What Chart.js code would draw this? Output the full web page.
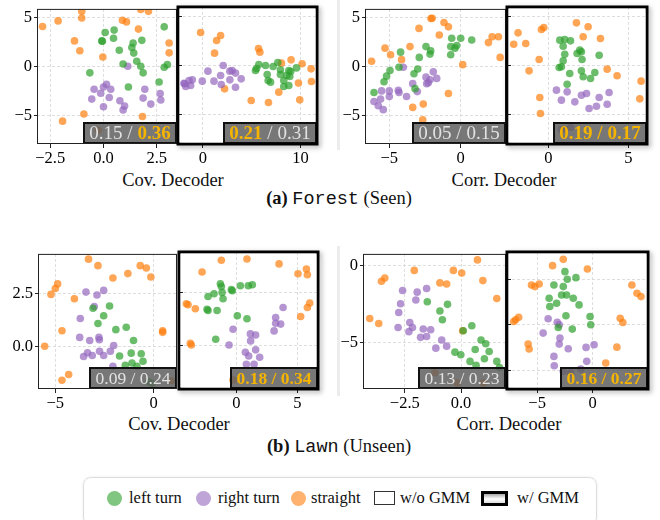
<!DOCTYPE html>
<html>
<head>
<meta charset="utf-8">
<script src="https://cdn.jsdelivr.net/npm/chart.js@4.4.1/dist/chart.umd.min.js"></script>
<style>
  body { margin:0; width:660px; height:520px; position:relative; overflow:hidden; background:#fff;
         font-family:'Liberation Serif','Times New Roman',serif; color:#111; }
  canvas { position:absolute; }
  .t { position:absolute; transform:translate(-50%,-50%); white-space:nowrap; font-size:18.5px; }
  .mono { font-family:'Liberation Mono','Courier New',monospace; }
  .sep { position:absolute; width:3px; background:#ececec; }
  #legend { position:absolute; left:83px; top:477px; width:512px; height:46px; border:1.5px solid #ddd;
            border-radius:8px; box-shadow:0 0 3px rgba(0,0,0,0.08); }
  .dot { position:absolute; width:15px; height:15px; border-radius:50%; }
  .lt { position:absolute; top:498px; transform:translateY(-50%); font-size:16.5px; white-space:nowrap; }
</style>
</head>
<body>
<div class="sep" style="left:337px;top:0;height:150px"></div>
<div class="sep" style="left:337px;top:246px;height:150px"></div>

<div class="t" style="left:173px;top:180px">Cov. Decoder</div>
<div class="t" style="left:504px;top:180px">Corr. Decoder</div>
<div class="t" style="left:339px;top:199px"><b>(a)</b> <span class="mono">Forest</span> (Seen)</div>
<div class="t" style="left:179px;top:424px">Cov. Decoder</div>
<div class="t" style="left:509px;top:424px">Corr. Decoder</div>
<div class="t" style="left:339px;top:447px"><b>(b)</b> <span class="mono">Lawn</span> (Unseen)</div>

<div id="legend"></div>
<div class="dot" style="left:107px;top:491px;background:rgba(44,160,44,0.6)"></div>
<div class="lt" style="left:129px">left turn</div>
<div class="dot" style="left:196px;top:491px;background:rgba(148,103,189,0.6)"></div>
<div class="lt" style="left:218px">right turn</div>
<div class="dot" style="left:291px;top:491px;background:rgba(255,127,14,0.6)"></div>
<div class="lt" style="left:311px">straight</div>
<div style="position:absolute;left:374px;top:491px;width:19px;height:12px;border:1.3px solid #333;background:#fff"></div>
<div class="lt" style="left:400px">w/o GMM</div>
<div style="position:absolute;left:481px;top:491px;width:21px;height:9px;border:3px solid #000;background:linear-gradient(#aaa,#fff 55%,#ddd)"></div>
<div class="lt" style="left:517px">w/ GMM</div>

<script>
// ---- data ----
// Forest, Cov. Decoder, w/o GMM
const p1Left = [[0.08,3.50],[0.50,3.74],[-0.08,2.63],[-0.05,2.60],[0.47,2.90],[2.85,4.07],[1.39,2.42],[1.80,2.69],[1.33,1.95],[1.42,1.38],[0.74,1.68],[1.56,0.54],[1.75,0.03],[1.86,-0.64],[0.92,0.27],[-0.64,-0.64],[1.17,-2.09],[2.61,-1.58],[2.85,-0.07],[3.00,0.20]];
const p1Right = [[-0.44,-2.32],[-0.55,-3.33],[-0.13,-2.73],[0.14,-1.82],[0.34,-2.32],[0.27,-3.16],[0.00,-4.11],[0.77,-3.50],[0.92,-4.44],[0.99,-4.04],[1.14,0.03],[1.94,-2.32],[1.86,-3.23],[2.22,-3.84],[2.66,-2.76],[2.69,-3.43],[0.00,-2.09]];
const p1Straight = [[-2.86,4.11],[-2.13,4.68],[-1.02,5.66],[-1.02,4.98],[1.75,5.86],[2.11,5.66],[0.89,4.75],[1.08,4.58],[1.64,3.84],[-1.36,2.63],[-1.11,1.62],[-0.03,0.98],[3.08,2.42],[3.08,1.41],[1.83,-5.12],[-0.92,-4.85],[-1.92,-5.59],[-0.25,-6.53]];
// Forest, Cov. Decoder, w/ GMM
const p2Left = [[5.39,-0.51],[5.73,0.10],[6.42,0.00],[6.59,-0.91],[6.93,-1.68],[7.68,0.30],[7.95,-0.44],[8.81,-0.51],[9.59,-0.24],[8.91,-1.11],[8.29,-1.52],[8.81,-2.02],[8.29,-2.12],[7.95,-0.91],[6.69,-1.52],[5.50,-0.30],[8.60,-1.00],[7.20,-0.10],[9.00,-0.60]];
const p2Right = [[-1.88,-1.85],[-1.43,-1.52],[-1.09,-1.45],[-1.26,-2.02],[-1.77,-2.12],[-0.07,-1.58],[0.51,-0.57],[1.13,-1.58],[1.81,-1.01],[1.88,-1.92],[2.08,0.00],[2.76,-0.57],[3.00,-0.51],[2.76,-1.45],[3.34,-0.77],[3.92,-1.35],[3.34,-2.19],[-1.95,-1.80]];
const p2Straight = [[-0.24,3.33],[1.40,2.53],[1.81,3.03],[1.19,1.25],[5.70,1.72],[5.84,1.35],[2.22,-2.36],[4.95,-3.54],[6.72,-3.74],[9.93,-3.47],[8.05,0.24],[9.04,0.57],[10.17,0.17],[11.09,-0.34],[11.13,-1.62],[9.80,-1.78],[7.78,-2.69]];
// Forest, Corr. Decoder, w/o GMM
const p3Left = [[-6.07,-2.66],[-5.37,-1.55],[-5.19,-0.98],[-4.95,-0.40],[-4.21,1.48],[-4.32,-0.07],[-3.27,-0.74],[-3.01,-0.24],[-2.90,0.94],[-2.43,2.05],[-2.15,1.28],[-2.10,1.62],[-0.63,2.90],[-0.70,2.05],[-0.40,1.89],[-0.28,2.15],[0.00,2.90],[0.77,2.73],[-0.70,1.21],[-3.20,-2.26]];
const p3Right = [[-6.07,-3.57],[-5.77,-4.01],[-5.42,-4.41],[-5.61,-3.33],[-5.54,-2.49],[-5.00,-2.49],[-5.00,-3.06],[-4.37,-2.42],[-4.32,-2.66],[-3.79,-3.06],[-3.36,-1.75],[-3.04,-2.56],[-2.43,-1.08],[-2.27,-1.65],[-2.38,-1.75],[-2.15,-1.35],[-1.92,-0.54],[-1.68,-1.21],[-4.02,-0.07]];
const p3Straight = [[-6.24,0.54],[-5.30,1.89],[-4.91,1.21],[-4.14,0.71],[-3.55,2.05],[-2.92,3.91],[-2.08,4.92],[-2.00,4.95],[-1.17,4.51],[-0.86,4.07],[-1.50,3.23],[0.14,0.20],[1.94,2.46],[2.20,3.06],[2.64,3.06],[2.76,0.94],[-0.86,-2.76],[-2.62,-3.84],[-3.36,-4.18],[-2.66,-5.45]];
// Forest, Corr. Decoder, w/ GMM
const p4Left = [[0.71,2.56],[1.02,2.63],[1.38,2.49],[0.92,1.95],[1.02,1.14],[0.92,0.47],[0.81,-0.13],[0.67,-0.20],[1.33,-0.81],[1.17,-1.89],[1.96,1.55],[2.06,1.38],[1.79,1.21],[2.10,0.61],[2.06,-0.54],[2.17,-1.14],[2.63,-1.31],[2.90,-0.71],[3.17,1.04]];
const p4Right = [[0.50,-2.49],[1.17,-2.66],[0.81,-3.50],[1.65,-3.67],[2.06,-3.00],[2.38,-2.83],[2.54,-4.34],[3.00,-4.11],[3.17,-3.23],[3.67,-3.91],[3.79,-2.73],[0.81,-6.46],[1.38,-6.26]];
const p4Straight = [[-2.17,2.15],[-1.90,3.30],[-1.42,2.22],[-0.44,3.64],[-0.29,3.84],[-0.58,0.61],[-1.21,-0.54],[1.75,4.31],[2.48,3.91],[2.17,2.90],[3.25,2.73],[3.67,-0.37],[4.29,-1.04],[5.79,-1.58],[5.71,-3.37],[-0.54,-3.23],[-0.50,-4.85]];
// Lawn, Cov. Decoder, w/o GMM
const p5Left = [[-3.08,1.81],[-2.24,1.92],[-2.54,1.45],[-2.83,1.08],[-1.92,0.79],[-1.39,0.90],[-1.02,0.27],[-1.73,-0.47],[-1.14,-0.33],[-0.63,-0.36],[-0.54,-0.72],[-1.10,-0.80],[-1.44,-0.91],[-0.85,-0.96],[-0.25,-1.70],[-0.08,-1.78]];
const p5Right = [[-3.44,2.58],[-2.88,2.44],[-2.54,2.66],[-3.02,1.89],[-3.73,1.32],[-3.76,0.42],[-3.25,0.27],[-2.78,0.42],[-2.76,0.31],[-2.03,0.03],[-2.20,-0.24],[-2.75,-0.24],[-2.54,-0.44],[-3.36,-0.31],[-3.56,-0.49],[-3.12,-0.44],[-2.07,-0.96]];
const p5Straight = [[-3.31,4.15],[-2.83,3.84],[-2.07,3.25],[-1.31,3.46],[-0.68,3.84],[-0.37,3.73],[-0.14,3.30],[-4.88,2.97],[-5.00,2.75],[-5.22,2.47],[-4.03,2.26],[-4.66,0.74],[-5.54,0.00],[0.46,0.74],[0.46,0.66],[-4.66,-1.62],[-4.32,-1.35],[0.90,-1.65]];
// Lawn, Cov. Decoder, w/ GMM
const p6Left = [[-1.31,2.91],[-1.23,2.78],[-1.83,2.44],[-2.32,2.31],[-1.17,2.50],[-1.09,2.20],[-0.41,2.63],[-0.33,2.58],[0.33,2.81],[0.98,2.81],[1.31,2.86],[-2.40,1.71],[-2.32,1.65],[-1.58,1.65],[0.08,1.40],[0.87,1.26],[-1.69,0.30]];
const p6Right = [[3.83,1.79],[3.22,1.32],[3.22,1.05],[3.63,1.01],[3.09,0.69],[-0.27,0.77],[1.15,0.55],[1.58,0.50],[1.17,0.22],[-0.60,0.03],[0.74,-0.31],[1.01,-0.49],[1.58,-0.20],[1.91,-0.55],[0.82,-0.88],[1.45,-0.88]];
const p6Straight = [[-1.23,4.01],[0.87,4.07],[3.50,3.84],[-2.81,3.46],[5.05,3.38],[5.74,3.60],[5.82,3.33],[-4.10,1.97],[-3.96,1.92],[-3.36,1.73],[6.01,2.00],[5.82,1.79],[5.27,1.37],[-3.77,0.11],[-3.69,0.03],[-0.27,-1.62]];
// Lawn, Corr. Decoder, w/o GMM
const p7Left = [[-1.50,-2.33],[-0.60,-2.50],[-0.94,-2.93],[-0.83,-3.50],[0.10,-4.21],[0.48,-3.89],[0.89,-4.81],[1.10,-5.06],[1.25,-5.56],[0.63,-5.43],[1.04,-6.03],[-0.27,-5.60],[-0.01,-5.77],[0.40,-6.20],[0.67,-6.45],[1.59,-6.20],[1.71,-6.60]];
const p7Right = [[-2.60,-1.60],[-1.95,-1.71],[-1.53,-1.47],[-2.01,-2.22],[-2.69,-2.46],[-2.77,-3.03],[-2.80,-4.00],[-2.28,-3.68],[-2.32,-4.27],[-2.16,-4.00],[-1.68,-4.10],[-1.35,-4.15],[-1.80,-4.64],[-1.53,-4.59],[-0.86,-4.81],[-0.64,-5.21],[-1.12,-5.34]];
const p7Straight = [[0.73,0.38],[-0.34,-0.30],[0.03,-0.47],[0.97,-0.96],[1.59,-2.12],[-2.08,-0.30],[-3.54,-1.00],[-3.39,-0.79],[-0.94,-1.11],[-0.64,-1.18],[-4.06,-3.42],[-3.66,-3.74],[0.07,-4.21],[-1.16,-6.94],[-0.16,-7.59],[1.00,-7.59]];
// Lawn, Corr. Decoder, w/ GMM
const p8Left = [[-2.50,5.84],[-2.29,5.00],[-1.51,5.18],[-3.49,4.38],[-2.65,4.20],[-2.80,3.28],[-2.35,3.28],[-1.75,2.92],[-3.92,2.92],[-3.25,2.37],[-3.86,2.01],[-1.23,2.19],[-2.41,0.99],[-0.24,0.91],[-0.18,0.00],[-3.10,-0.29],[-1.84,-0.47]];
const p8Right = [[-4.01,0.66],[-3.19,0.29],[-3.01,0.00],[-4.46,-0.91],[-2.95,-1.46],[-3.01,-2.12],[-2.20,-2.63],[-3.49,-3.47],[-3.46,-4.49],[-0.60,-2.48],[0.12,-2.19],[-0.54,-4.01],[-1.08,-4.85],[-2.65,-5.11],[-1.99,-5.29]];
const p8Straight = [[-3.61,6.50],[-2.65,7.19],[-0.48,6.13],[-5.51,4.38],[-5.21,4.20],[-4.82,4.49],[-6.93,0.55],[-6.66,0.84],[-7.11,0.36],[-5.81,-2.12],[-5.72,-2.66],[3.52,4.38],[3.98,3.47],[4.34,3.10],[2.47,0.73],[2.71,0.26],[2.17,-2.45],[1.17,-4.20]];

// tick values
const p1XTicks = [-2.5, 0, 2.5];
const p2XTicks = [0, 10];
const p3XTicks = [-5, 0];
const p4XTicks = [0, 5];
const p5XTicks = [-5, 0];
const p6XTicks = [0, 5];
const p7XTicks = [-2.5, 0];
const p8XTicks = [-5, 0];
const forestYTicks = [-5, 0, 5];
const lawnCovYTicks = [0, 2.5];
const lawnCorrYTicks = [-5, 0];
const lawnCorrGmmYTicks = [-5, 0, 5];

// score boxes: [w/o value, w/ value] and which part is highlighted
const panelScores = [[0.15,0.36],[0.21,0.31],[0.05,0.15],[0.19,0.17],[0.09,0.24],[0.18,0.34],[0.13,0.23],[0.16,0.27]];
const scoreBest = [[0,1],[1,0],[0,0],[1,1],[0,0],[1,1],[0,0],[1,1]];

const classColors = ['rgba(44,160,44,0.7)', 'rgba(148,103,189,0.7)', 'rgba(255,127,14,0.7)'];
const SERIF = "'Liberation Serif','Times New Roman',serif";
const GOLD = '#f5b400';

const panels = [
  {rect:[37,7,140,137],  x:[-3.12,3.45],  y:[-7.93,5.91], xt:p1XTicks, yt:forestYTicks, showY:true,  thick:false, sets:[p1Left,p1Right,p1Straight], boxW:94, fs:19},
  {rect:[178,7,139,137], x:[-2.56,11.7],  y:[-7.93,5.91], xt:p2XTicks, yt:forestYTicks, showY:false, thick:true,  sets:[p2Left,p2Right,p2Straight], boxW:94, fs:19},
  {rect:[365,7,141,137], x:[-6.7,3.17],   y:[-7.93,5.91], xt:p3XTicks, yt:forestYTicks, showY:true,  thick:false, sets:[p3Left,p3Right,p3Straight], boxW:94, fs:19},
  {rect:[507,7,140,137], x:[-2.59,6.16],  y:[-7.93,5.91], xt:p4XTicks, yt:forestYTicks, showY:false, thick:true,  sets:[p4Left,p4Right,p4Straight], boxW:94, fs:19},
  {rect:[38,252,139,137], x:[-5.88,1.19], y:[-2.04,4.4],  xt:p5XTicks, yt:lawnCovYTicks, showY:true,  thick:false, sets:[p5Left,p5Right,p5Straight], boxW:88, fs:17.5},
  {rect:[179,252,139,137],x:[-4.7,6.69],  y:[-2.04,4.4],  xt:p6XTicks, yt:lawnCovYTicks, showY:false, thick:true,  sets:[p6Left,p6Right,p6Straight], boxW:88, fs:17.5},
  {rect:[363,252,143,137],x:[-4.36,2.0],  y:[-7.99,0.77], xt:p7XTicks, yt:lawnCorrYTicks, showY:true, thick:false, sets:[p7Left,p7Right,p7Straight], boxW:88, fs:17.5},
  {rect:[507,252,141,137],x:[-7.71,4.97], y:[-7.05,8.0],  xt:p8XTicks, yt:lawnCorrGmmYTicks, showY:false, thick:true, sets:[p8Left,p8Right,p8Straight], boxW:88, fs:17.5}
];

function fmtTick(v, ticks) {
  var dec = ticks.some(function (t) { return t % 1 !== 0; }) ? 1 : 0;
  return (v < 0 ? '\u2212' : '') + Math.abs(v).toFixed(dec);
}

const decorPlugin = {
  id: 'decor',
  afterDatasetsDraw: function (chart) {
    var p = chart.options.plugins.decor;
    var a = chart.chartArea, ctx = chart.ctx;
    var bw = p.boxW, bh = 22;
    var bx = a.right - bw, by = a.bottom - bh;
    ctx.save();
    ctx.fillStyle = 'rgba(95,95,95,0.85)';
    ctx.fillRect(bx, by, bw, bh);
    ctx.strokeStyle = '#111';
    ctx.lineWidth = 2;
    ctx.strokeRect(bx + 1, by + 1, bw - 2, bh - 2);
    // score text
    var sc = panelScores[p.idx], best = scoreBest[p.idx];
    var parts = [
      {s: sc[0].toFixed(2), g: best[0]},
      {s: ' / ', g: best[0] && best[1]},
      {s: sc[1].toFixed(2), g: best[1]}
    ];
    var total = 0;
    parts.forEach(function (q) {
      ctx.font = (q.g ? 'bold ' : '') + p.fs + 'px ' + SERIF;
      q.w = ctx.measureText(q.s).width;
      total += q.w;
    });
    var tx = bx + (bw - total) / 2;
    ctx.textBaseline = 'alphabetic';
    parts.forEach(function (q) {
      ctx.font = (q.g ? 'bold ' : '') + p.fs + 'px ' + SERIF;
      ctx.fillStyle = q.g ? GOLD : '#e2e2e2';
      ctx.fillText(q.s, tx, a.bottom - 5.5);
      tx += q.w;
    });
    ctx.restore();
  },
  afterDraw: function (chart) {
    var p = chart.options.plugins.decor;
    var a = chart.chartArea, ctx = chart.ctx;
    var w = a.right - a.left, h = a.bottom - a.top;
    ctx.save();
    if (p.thick) {
      // shadow only outside the frame
      ctx.beginPath();
      ctx.rect(0, 0, chart.width, chart.height);
      ctx.rect(a.left + 1.5, a.top + 1.5, w - 3, h - 3);
      ctx.clip('evenodd');
      ctx.shadowColor = 'rgba(0,0,0,0.35)';
      ctx.shadowBlur = 5;
      ctx.shadowOffsetX = 2;
      ctx.shadowOffsetY = 2;
      ctx.strokeStyle = '#000';
      ctx.lineWidth = 3;
      ctx.strokeRect(a.left, a.top, w, h);
    } else {
      ctx.strokeStyle = '#222';
      ctx.lineWidth = 1;
      ctx.strokeRect(a.left + 0.5, a.top + 0.5, w - 1, h - 1);
    }
    ctx.restore();
  }
};

function makePanel(p, idx) {
  var l = p.rect[0], t = p.rect[1], w = p.rect[2], h = p.rect[3];
  var W = w + 64, H = h + 40;
  var cv = document.createElement('canvas');
  cv.width = W; cv.height = H;
  cv.style.left = (l - 44) + 'px';
  cv.style.top = (t - 10) + 'px';
  cv.style.width = W + 'px';
  cv.style.height = H + 'px';
  document.body.appendChild(cv);

  var datasets = p.sets.map(function (pts, k) {
    return {
      data: pts.map(function (d) { return {x: d[0], y: d[1]}; }),
      backgroundColor: classColors[k],
      borderWidth: 0,
      pointRadius: 3.8,
      pointHoverRadius: 3.8,
      clip: 0
    };
  });

  var gridBase = {color: '#d6d6d6', lineWidth: 0.8, tickColor: '#222', tickWidth: 1};

  new Chart(cv, {
    type: 'scatter',
    data: {datasets: datasets},
    plugins: [decorPlugin],
    options: {
      responsive: false,
      animation: false,
      events: [],
      layout: {padding: {left: 4, right: 20, top: 10, bottom: 0}},
      plugins: {
        legend: {display: false},
        tooltip: {enabled: false},
        decor: {idx: idx, thick: p.thick, boxW: p.boxW, fs: p.fs}
      },
      scales: {
        x: {
          type: 'linear', min: p.x[0], max: p.x[1],
          afterBuildTicks: function (s) { s.ticks = p.xt.map(function (v) { return {value: v}; }); },
          afterFit: function (s) { s.height = 30; },
          ticks: {callback: function (v) { return fmtTick(v, p.xt); }, color: '#000',
                  font: {family: SERIF, size: 16.5}, padding: 1, maxRotation: 0, autoSkip: false},
          grid: Object.assign({}, gridBase, {drawTicks: true, tickLength: 4}),
          border: {display: false, dash: [3, 2]}
        },
        y: {
          type: 'linear', min: p.y[0], max: p.y[1],
          afterBuildTicks: function (s) { s.ticks = p.yt.map(function (v) { return {value: v}; }); },
          afterFit: function (s) { s.width = 40; },
          ticks: {display: p.showY, callback: function (v) { return fmtTick(v, p.yt); }, color: '#000',
                  font: {family: SERIF, size: 16.5}, padding: 2, autoSkip: false},
          grid: Object.assign({}, gridBase, {drawTicks: true, tickLength: p.showY ? 3 : -4}),
          border: {display: false, dash: [3, 2]}
        }
      }
    }
  });
}

panels.forEach(makePanel);
</script>
</body>
</html>
